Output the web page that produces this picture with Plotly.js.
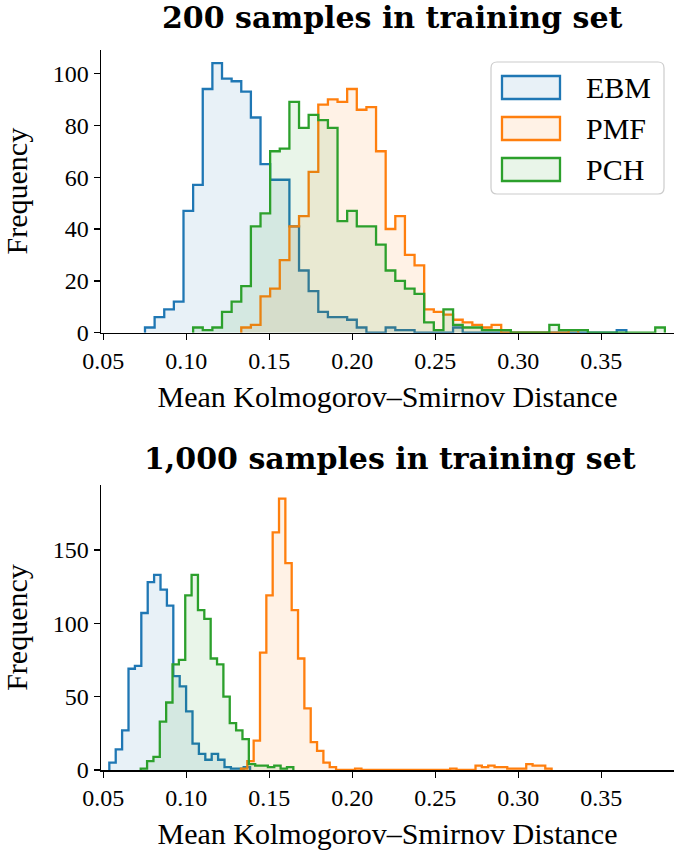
<!DOCTYPE html>
<html><head><meta charset="utf-8">
<script src="https://cdn.plot.ly/plotly-3.0.1.min.js"></script>
<style>html,body{margin:0;padding:0;background:#fff}#chart{width:674px;height:850px}</style>
</head><body><div id="chart"></div>
<script>
// ---------- data ----------
const seriesNames = ['EBM', 'PMF', 'PCH'];
const titles = ['200 samples in training set', '1,000 samples in training set'];
const xLabel = 'Mean Kolmogorov\u2013Smirnov Distance';
const yLabel = 'Frequency';
const xTickVals = [0.05, 0.10, 0.15, 0.20, 0.25, 0.30, 0.35];
const xTickText = ['0.05', '0.10', '0.15', '0.20', '0.25', '0.30', '0.35'];
const topYTicks = [0, 20, 40, 60, 80, 100];
const botYTicks = [0, 50, 100, 150];

// Top panel (200 samples): shared bin grid
const topBinStart = 0.0751;
const topBinWidth = 0.0058;
const topEbmFirstBin = 0;
const topEbmCounts = [2, 6, 9, 12, 47, 57, 94, 104, 98, 97, 93, 83, 65, 59, 59, 41, 24, 16, 8, 6, 6, 5, 2, 0, 0, 2, 1, 1, 0, 0, 0, 0, 2, 0, 0, 0, 0, 0, 0, 0, 0, 0, 0, 0, 0, 0, 0, 0, 0, 1];
const topPmfFirstBin = 10;
const topPmfCounts = [2, 3, 14, 17, 28, 41, 45, 62, 88, 90, 89, 94, 86, 87, 70, 40, 45, 30, 26, 9, 8, 7, 5, 4, 3, 2, 3, 0, 0, 0, 0, 0, 0, 0, 1];
const topPchFirstBin = 5;
const topPchCounts = [2, 1, 2, 8, 12, 18, 41, 46, 70, 71, 89, 79, 84, 82, 79, 43, 47, 41, 41, 34, 24, 20, 17, 15, 4, 1, 9, 3, 2, 2, 1, 1, 1, 0, 0, 0, 0, 3, 1, 1, 1, 0, 0, 0, 0, 0, 0, 0, 2];

// Bottom panel (1,000 samples): per-series bins
const botEbmStart = 0.05361, botEbmWidth = 0.003855;
const botEbmCounts = [5, 14, 27, 69, 71, 107, 128, 133, 123, 112, 64, 57, 40, 18, 11, 7, 11, 7, 2, 1, 1, 2];
const botPmfStart = 0.13293, botPmfWidth = 0.003819;
const botPmfCounts = [1, 6, 20, 80, 119, 162, 185, 141, 109, 76, 42, 19, 13, 5, 2, 0, 0, 0, 1, 0, 0, 0, 0, 0, 0, 0, 0, 0, 0, 0, 0, 0, 0, 1, 0, 0, 0, 3, 2, 3, 2, 2, 1, 1, 1, 4, 3, 3, 1];
const botPchStart = 0.07253, botPchWidth = 0.003831;
const botPchCounts = [1, 6, 9, 33, 46, 72, 75, 119, 133, 109, 103, 76, 72, 50, 32, 27, 21, 4, 3, 3, 2, 3, 1, 2];

// ---------- style ----------
const colors = ['#1f77b4', '#ff7f0e', '#2ca02c'];
const fills = ['rgba(31,119,180,0.1)', 'rgba(255,127,14,0.1)', 'rgba(44,160,44,0.1)'];
const W = 674, H = 850, ML = 101;
const serif = 'Liberation Serif, Times New Roman, serif';
const X = px => (px - ML) / (W - ML);
const Y = py => 1 - py / H;

function stepTrace(start, width, counts, idx, xa, ya) {
  const x = [start], y = [0];
  for (let k = 0; k < counts.length; k++) { x.push(start + k * width); y.push(counts[k]); }
  x.push(start + counts.length * width); y.push(0);
  return {type: 'scatter', mode: 'lines', x: x, y: y, xaxis: xa, yaxis: ya,
    line: {shape: 'hv', color: colors[idx], width: 2.3}, fill: 'tozeroy', fillcolor: fills[idx],
    name: seriesNames[idx], showlegend: false, hoverinfo: 'skip'};
}

const traces = [
  stepTrace(topBinStart + topEbmFirstBin * topBinWidth, topBinWidth, topEbmCounts, 0, 'x', 'y'),
  stepTrace(topBinStart + topPmfFirstBin * topBinWidth, topBinWidth, topPmfCounts, 1, 'x', 'y'),
  stepTrace(topBinStart + topPchFirstBin * topBinWidth, topBinWidth, topPchCounts, 2, 'x', 'y'),
  stepTrace(botEbmStart, botEbmWidth, botEbmCounts, 0, 'x2', 'y2'),
  stepTrace(botPmfStart, botPmfWidth, botPmfCounts, 1, 'x2', 'y2'),
  stepTrace(botPchStart, botPchWidth, botPchCounts, 2, 'x2', 'y2')
];

const xRange = [0.0486, 0.3938];
function xAxis(anchor) {
  return {anchor: anchor, domain: [0, 1], range: xRange, tickvals: xTickVals, ticktext: xTickText,
    showline: true, linecolor: '#000', linewidth: 1.5, ticks: 'outside', ticklen: 6, tickwidth: 1.3,
    tickcolor: '#000', showgrid: false, zeroline: false, automargin: false,
    tickfont: {family: serif, size: 24, color: '#000'},
    title: {text: xLabel, font: {family: serif, size: 30, color: '#000'}, standoff: 13}};
}
function yAxis(anchor, domain, range, ticks) {
  return {anchor: anchor, domain: domain, range: range, tickvals: ticks,
    showline: true, linecolor: '#000', linewidth: 1.5, ticks: 'outside', ticklen: 6, tickwidth: 1.3,
    tickcolor: '#000', showgrid: false, zeroline: false, automargin: false,
    tickfont: {family: serif, size: 24, color: '#000'},
    title: {text: yLabel, font: {family: serif, size: 30, color: '#000'}, standoff: 16}};
}

// legend drawn as shapes + text
const legBox = {l: 491, r: 664, t: 62, b: 194, rad: 6};
function roundRect(b) {
  const rx = b.rad / (W - ML), ry = b.rad / H;
  const l = X(b.l), r = X(b.r), t = Y(b.t), bo = Y(b.b);
  return `M ${l + rx},${t} L ${r - rx},${t} Q ${r},${t} ${r},${t - ry} L ${r},${bo + ry} Q ${r},${bo} ${r - rx},${bo} L ${l + rx},${bo} Q ${l},${bo} ${l},${bo + ry} L ${l},${t - ry} Q ${l},${t} ${l + rx},${t} Z`;
}
const shapes = [{type: 'path', xref: 'paper', yref: 'paper', path: roundRect(legBox), layer: 'above',
  fillcolor: 'rgba(255,255,255,0.8)', line: {color: '#cccccc', width: 1.2}}];
const annotations = [];
const legRowsY = [87.5, 128.5, 169.5];
seriesNames.forEach((n, i) => {
  const cy = legRowsY[i];
  shapes.push({type: 'rect', xref: 'paper', yref: 'paper', layer: 'above',
    x0: X(502), x1: X(560), y0: Y(cy - 11.5), y1: Y(cy + 11.5),
    fillcolor: fills[i], line: {color: colors[i], width: 2.3}});
  annotations.push({xref: 'paper', yref: 'paper', x: X(584), y: Y(cy), xanchor: 'left', yanchor: 'middle',
    text: n, showarrow: false, font: {family: serif, size: 30, color: '#000'}});
});
annotations.push({xref: 'paper', yref: 'paper', x: X(392), y: Y(18), xanchor: 'center', yanchor: 'middle',
  text: '<b>' + titles[0] + '</b>', showarrow: false, font: {family: 'DejaVu Serif, serif', size: 30, color: '#000'}});
annotations.push({xref: 'paper', yref: 'paper', x: X(390), y: Y(458), xanchor: 'center', yanchor: 'middle',
  text: '<b>' + titles[1] + '</b>', showarrow: false, font: {family: 'DejaVu Serif, serif', size: 30, color: '#000'}});

const layout = {
  width: W, height: H, margin: {l: ML, r: 0, t: 0, b: 0}, paper_bgcolor: '#fff', plot_bgcolor: 'rgba(0,0,0,0)',
  showlegend: false,
  xaxis: xAxis('y'),
  yaxis: yAxis('x', [Y(332.7), Y(49.6)], [0, 109.2], topYTicks),
  xaxis2: xAxis('y2'),
  yaxis2: yAxis('x2', [Y(770), Y(485)], [0, 194.25], botYTicks),
  shapes: shapes, annotations: annotations
};
Plotly.newPlot('chart', traces, layout, {staticPlot: true, displayModeBar: false});
</script></body></html>
